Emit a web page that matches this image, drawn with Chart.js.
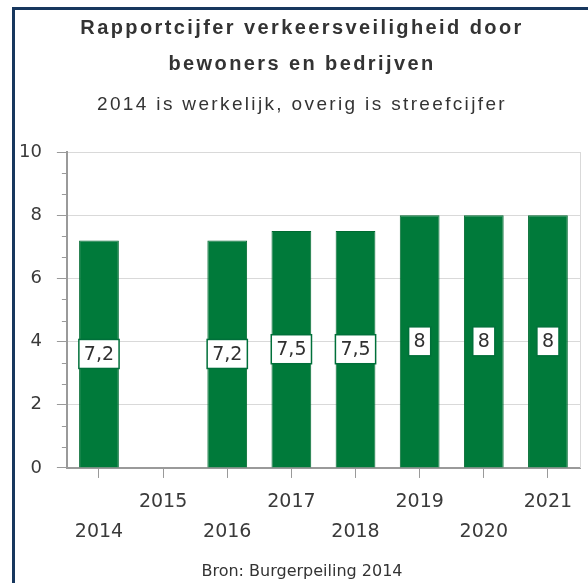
<!DOCTYPE html>
<html><head><meta charset="utf-8">
<script src="https://cdn.jsdelivr.net/npm/chart.js@4"></script>
<style>
html,body{margin:0;padding:0;background:#fff;overflow:hidden;width:588px;height:583px}
#frame{position:absolute;left:12px;top:7px;width:600px;height:600px;border-left:3px solid #17375e;border-top:3px solid #17375e;}
#c{position:absolute;left:0;top:0}
</style></head><body>
<div id="frame"><canvas id="c" width="574" height="573"></canvas></div>
<script>
const categories = ['2014','2015','2016','2017','2018','2019','2020','2021'];
const values = [7.2, null, 7.2, 7.5, 7.5, 8, 8, 8];
const titleLines = ['Rapportcijfer verkeersveiligheid door', 'bewoners en bedrijven'];
const subtitleText = '2014 is werkelijk, overig is streefcijfer';
const sourceText = 'Bron: Burgerpeiling 2014';
const yMin = 0, yMax = 10, yStep = 2;

const letterSpacingPlugin = {
  id: 'letterSpacing',
  beforeDraw(chart) {
    for (const box of chart.boxes) {
      if (box.__ls || box instanceof Chart.Scale) continue;
      const sp = box.options && box.options.letterSpacing;
      if (!sp) continue;
      const orig = box.draw;
      box.draw = function (area) {
        const ctx = this.ctx; ctx.save();
        ctx.letterSpacing = sp + 'px';
        orig.call(this, area);
        ctx.restore();
      };
      box.__ls = true;
    }
  }
};

const minorTicksPlugin = {
  id: 'minorTicks',
  afterDraw(chart) {
    const ys = chart.scales.y, ctx = chart.ctx;
    ctx.save();
    ctx.strokeStyle = '#9a9a9a'; ctx.lineWidth = 1;
    for (let v = yMin; v < yMax; v += yStep) {
      for (const f of [1/3, 2/3]) {
        const py = Math.round(ys.getPixelForValue(v + f * yStep)) + 0.5;
        ctx.beginPath(); ctx.moveTo(ys.right - 5, py); ctx.lineTo(ys.right, py); ctx.stroke();
      }
    }
    ctx.restore();
  }
};

const valueLabelPlugin = {
  id: 'valueLabels',
  afterDatasetsDraw(chart) {
    const ctx = chart.ctx, meta = chart.getDatasetMeta(0);
    ctx.save();
    ctx.font = '19px "DejaVu Sans"';
    ctx.textAlign = 'center'; ctx.textBaseline = 'middle';
    meta.data.forEach((el, i) => {
      const v = values[i];
      if (v === null || v === undefined) return;
      const txt = String(v).replace('.', ',');
      const cx = el.x, cy = (el.y + el.base) / 2;
      const w = ctx.measureText(txt).width + 10, h = 29;
      ctx.fillStyle = '#ffffff';
      ctx.fillRect(cx - w / 2, cy - h / 2, w, h);
      ctx.strokeStyle = '#00703a'; ctx.lineWidth = 1.5;
      ctx.strokeRect(cx - w / 2, cy - h / 2, w, h);
      ctx.fillStyle = '#303030';
      ctx.fillText(txt, cx, cy + 1);
    });
    ctx.restore();
  }
};

const sourcePlugin = {
  id: 'sourceText',
  afterDraw(chart) {
    const ctx = chart.ctx;
    ctx.save();
    ctx.font = '16px "DejaVu Sans"';
    ctx.fillStyle = '#333333';
    ctx.textAlign = 'center'; ctx.textBaseline = 'middle';
    ctx.fillText(sourceText, chart.width / 2, chart.height - 11);
    ctx.restore();
  }
};

new Chart(document.getElementById('c'), {
  type: 'bar',
  data: {
    labels: categories,
    datasets: [{
      data: values,
      backgroundColor: '#007a3a',
      borderColor: '#006a31',
      borderWidth: 1,
      barPercentage: 0.62,
      categoryPercentage: 1
    }]
  },
  options: {
    responsive: false,
    devicePixelRatio: 1,
    animation: false,
    layout: { padding: { top: 0, left: -11, right: -11, bottom: 27 } },
    plugins: {
      legend: { display: false },
      tooltip: { enabled: false },
      title: {
        display: true,
        text: titleLines,
        color: '#333333',
        font: { family: '"Liberation Sans", Arial, sans-serif', size: 20, weight: 'bold', lineHeight: 1.8 },
        padding: { top: 0, bottom: 0 },
        letterSpacing: 2.4
      },
      subtitle: {
        display: true,
        text: subtitleText,
        color: '#333333',
        font: { family: '"Liberation Sans", Arial, sans-serif', size: 19, lineHeight: 1.2 },
        padding: { top: 11.6, bottom: 35.6 },
        letterSpacing: 2.35
      }
    },
    scales: {
      x: {
        offset: true,
        grid: { display: true, offset: false, drawOnChartArea: false, tickLength: 10, tickColor: '#9a9a9a', lineWidth: 1 },
        border: { display: true, color: '#9a9a9a', width: 2 },
        ticks: {
          autoSkip: false, maxRotation: 0, minRotation: 0, padding: 9,
          color: '#3a3a3a',
          font: { family: '"DejaVu Sans"', size: 19, lineHeight: 1.58 },
          callback: function (value, index) {
            const lab = categories[index];
            return index % 2 === 0 ? ['', lab] : [lab, ''];
          }
        }
      },
      y: {
        min: yMin, max: yMax,
        grid: { color: '#d9d9d9', lineWidth: 1, tickLength: 10, tickColor: '#9a9a9a' },
        border: { display: true, color: '#9a9a9a', width: 2 },
        ticks: {
          stepSize: yStep, padding: 15, color: '#3a3a3a',
          font: { family: '"DejaVu Sans"', size: 18 }
        }
      },
      y2: {
        position: 'right', display: true,
        grid: { drawOnChartArea: false, drawTicks: true, tickLength: 20, tickColor: 'rgba(0,0,0,0)' },
        ticks: { display: false },
        border: { display: true, color: '#d9d9d9', width: 1 }
      }
    }
  },
  plugins: [letterSpacingPlugin, minorTicksPlugin, valueLabelPlugin, sourcePlugin]
});
</script>
</body></html>
